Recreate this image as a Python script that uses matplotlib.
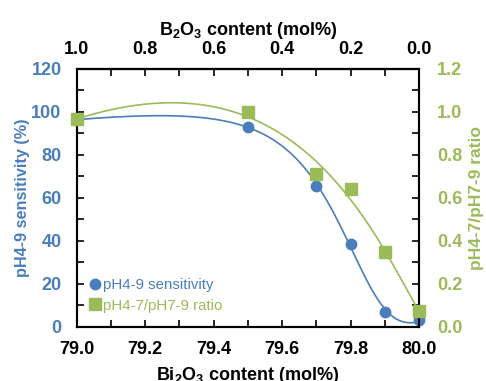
import matplotlib
matplotlib.use('Agg')
import matplotlib.pyplot as plt
import numpy as np
from matplotlib.ticker import MultipleLocator

plt.rcParams['font.family'] = ['Liberation Sans', 'DejaVu Sans']
plt.rcParams['mathtext.fontset'] = 'custom'
plt.rcParams['mathtext.rm'] = 'Liberation Sans:bold'
plt.rcParams['mathtext.it'] = 'Liberation Sans:bold'
plt.rcParams['mathtext.default'] = 'rm'

# data
bi2o3 = [79.0, 79.5, 79.7, 79.8, 79.9, 80.0]
sensitivity = [96.5, 93.0, 65.7, 38.6, 7.0, 3.0]
ratio = [0.965, 1.0, 0.71, 0.64, 0.35, 0.075]

blue = '#4a7ebb'
green = '#9bbb59'


def hill_fit(x, y):
    # least-squares fit of y = a + b*z + d * z^n / (k^n + z^n), z = B2O3 content
    z = 80.0 - np.asarray(x)
    y = np.asarray(y)
    best = None
    for k in np.linspace(0.08, 0.8, 90):
        for n in np.linspace(1.0, 8.0, 90):
            g = z ** n / (k ** n + z ** n)
            A = np.column_stack([np.ones_like(z), z, g])
            coef = np.linalg.lstsq(A, y, rcond=None)[0]
            sse = ((A @ coef - y) ** 2).sum()
            if best is None or sse < best[0]:
                best = (sse, k, n, coef)
    _, k, n, (a, b, d) = best

    def f(xx):
        zz = 80.0 - xx
        return a + b * zz + d * zz ** n / (k ** n + zz ** n)
    return f


fig = plt.figure(figsize=(4.86, 3.81), dpi=100)
ax = fig.add_axes([0.158, 0.142, 0.704, 0.677])
ax2 = ax.twinx()

xs = np.linspace(79.0, 80.0, 300)
ax.plot(xs, hill_fit(bi2o3, sensitivity)(xs), color=blue, lw=1.2, zorder=2)
ax2.plot(xs, hill_fit(bi2o3, ratio)(xs), color=green, lw=1.2, zorder=2)

h1, = ax.plot(bi2o3, sensitivity, 'o', color=blue, ms=7.5, clip_on=False, zorder=3,
              label='pH4-9 sensitivity')
h2, = ax2.plot(bi2o3, ratio, 's', color=green, ms=8, clip_on=False, zorder=3,
               label='pH4-7/pH7-9 ratio')

ax.set_xlim(79.0, 80.0)
ax.set_ylim(0, 120)
ax2.set_ylim(0, 1.2)

ax.xaxis.set_major_locator(MultipleLocator(0.2))
ax.xaxis.set_minor_locator(MultipleLocator(0.1))
ax.yaxis.set_major_locator(MultipleLocator(20))
ax.yaxis.set_minor_locator(MultipleLocator(10))
ax2.yaxis.set_major_locator(MultipleLocator(0.2))
ax2.yaxis.set_minor_locator(MultipleLocator(0.1))

ax.xaxis.set_major_formatter(lambda v, p: f'{v:.1f}')
ax2.yaxis.set_major_formatter(lambda v, p: f'{v:.1f}')

top = ax.secondary_xaxis('top', functions=(lambda x: 80 - x, lambda x: 80 - x))
top.xaxis.set_major_locator(MultipleLocator(0.2))
top.xaxis.set_minor_locator(MultipleLocator(0.1))
top.xaxis.set_major_formatter(lambda v, p: f'{abs(v):.1f}')

fs = 13
for a in (ax, ax2, top):
    a.tick_params(which='both', direction='in', width=1.2, labelsize=fs, length=5)
    for lbl in a.get_xticklabels() + a.get_yticklabels():
        lbl.set_fontweight('bold')
ax.tick_params(axis='x', pad=10)
ax.tick_params(axis='y', pad=11)
ax2.tick_params(axis='y', pad=13)
top.tick_params(axis='x', pad=8)

for lbl in ax.get_yticklabels():
    lbl.set_color(blue)
for lbl in ax2.get_yticklabels():
    lbl.set_color(green)
ax.tick_params(axis='y', which='both', right=False)

for a in (ax, ax2):
    for s in a.spines.values():
        s.set_linewidth(1.5)
top.spines['top'].set_linewidth(1.5)

ax.set_xlabel('Bi$_2$O$_3$ content (mol%)', fontsize=fs, fontweight='bold', labelpad=5)
top.set_xlabel('B$_2$O$_3$ content (mol%)', fontsize=fs, fontweight='bold', labelpad=4)
ax.set_ylabel('pH4-9 sensitivity (%)', fontsize=11.7, fontweight='bold', color=blue, labelpad=1)
ax2.set_ylabel('pH4-7/pH7-9 ratio', fontsize=12.5, fontweight='bold', color=green,
               rotation=90, labelpad=5)

leg = ax.legend(handles=[h1, h2], loc='lower left', bbox_to_anchor=(0.015, 0.02),
                frameon=False, fontsize=10.8, handlelength=0.6, handletextpad=0.2,
                borderaxespad=0.2, labelspacing=0.45)
leg.get_texts()[0].set_color(blue)
leg.get_texts()[1].set_color(green)

fig.savefig('out.png', dpi=100)
